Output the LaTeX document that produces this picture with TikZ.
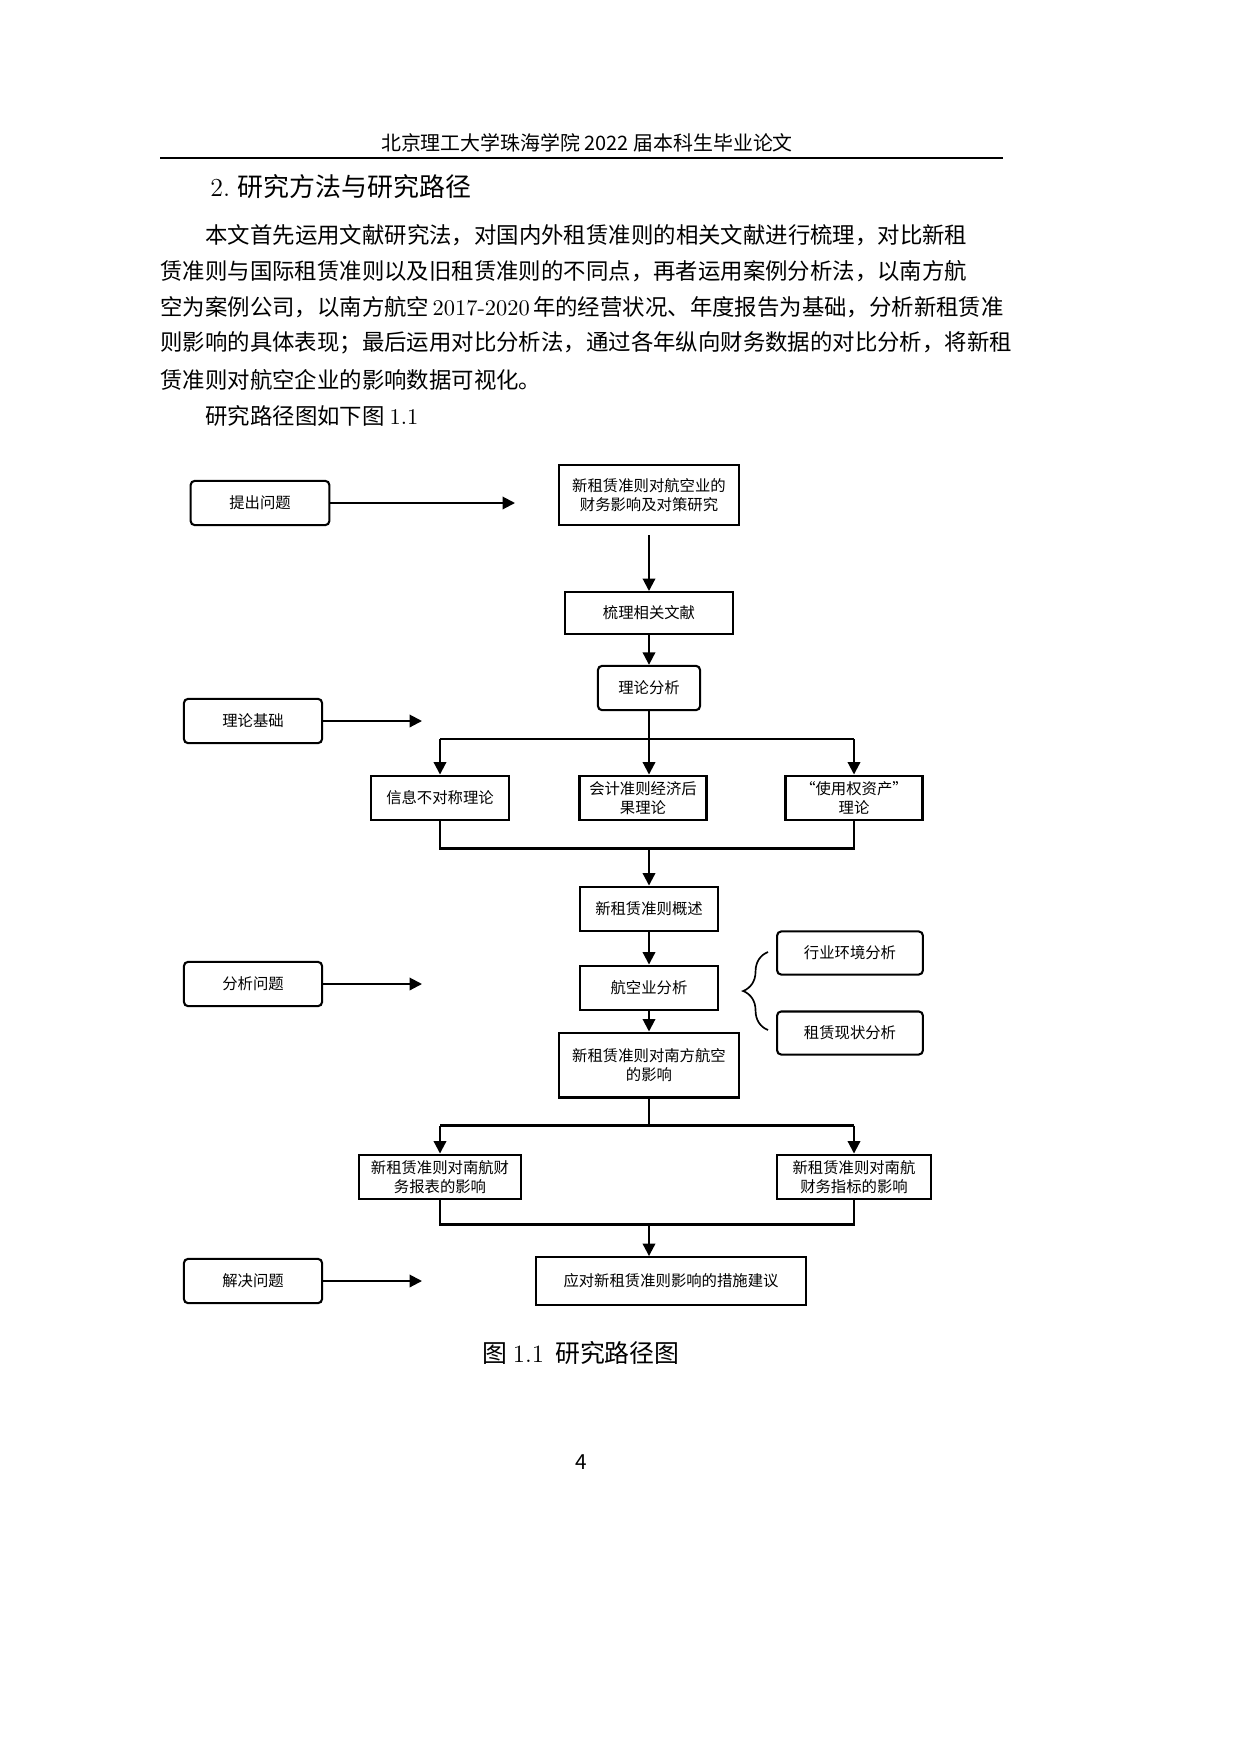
\documentclass[tikz,border=0pt]{standalone}
\usepackage{fontspec}
\newfontfamily\cjk{Noto Sans CJK SC}
\XeTeXlinebreaklocale "zh"
\XeTeXlinebreakskip=0pt plus 2pt
\usetikzlibrary{arrows.meta,decorations.pathreplacing}

\begin{document}
\begin{tikzpicture}[x=0.016935cm,y=-0.016935cm,
    box/.style={draw,line width=1pt,inner sep=0pt,align=center,font=\cjk\fontsize{7.4}{9.5}\selectfont},
    rbox/.style={box,rounded corners=2pt},
    link/.style={line width=1pt,-{Triangle[length=6pt,width=6pt]}},
    line/.style={line width=1pt},
    body/.style={anchor=west,inner sep=0pt,font=\cjk\fontsize{10.8}{13}\selectfont}]

    \useasboundingbox (0,0) rectangle (1240,1754);

    % page text
    \node[inner sep=0pt,font=\cjk\fontsize{9.6}{12}\selectfont] (head) at (587,143) {北京理工大学珠海学院 2022 届本科生毕业论文};
    \draw[line width=0.6pt] (160,158) -- (1003,158);
    \node[body,font=\cjk\fontsize{12.5}{15}\selectfont] (sec) at (210,187) {{\rmfamily 2.} 研究方法与研究路径};
    \node[body] (p1) at (205,235) {\makebox[13.51cm][s]{本文首先运用文献研究法，对国内外租赁准则的相关文献进行梳理，对比新租}};
    \node[body] (p2) at (160,271) {\makebox[14.28cm][s]{赁准则与国际租赁准则以及旧租赁准则的不同点，再者运用案例分析法，以南方航}};
    \node[body] (p3) at (160,307) {\makebox[14.28cm][s]{空为案例公司，以南方航空 {\rmfamily 2017-2020} 年的经营状况、年度报告为基础，分析新租赁准}};
    \node[body] (p4) at (160,343) {\makebox[14.28cm][s]{则影响的具体表现；最后运用对比分析法，通过各年纵向财务数据的对比分析，将新租}};
    \node[body] (p5) at (160,380) {赁准则对航空企业的影响数据可视化。};
    \node[body] (p6) at (205,416) {研究路径图如下图 {\rmfamily 1.1}};

    % left column
    \node[rbox,minimum width=2.35cm,minimum height=0.75cm] (tichu) at (260,503) {提出问题};
    \node[rbox,minimum width=2.34cm,minimum height=0.75cm] (jichu) at (253,721) {理论基础};
    \node[rbox,minimum width=2.34cm,minimum height=0.75cm] (fenxi) at (253,984) {分析问题};
    \node[rbox,minimum width=2.34cm,minimum height=0.75cm] (jiejue) at (253,1281) {解决问题};
    \coordinate (tichuend) at (515,503);
    \coordinate (jichuend) at (422,721);
    \coordinate (fenxiend) at (422,984);
    \coordinate (jiejueend) at (422,1281);
    \draw[link] (tichu) -- (tichuend);
    \draw[link] (jichu) -- (jichuend);
    \draw[link] (fenxi) -- (fenxiend);
    \draw[link] (jiejue) -- (jiejueend);

    % main column
    \node[box,minimum width=3.05cm,minimum height=1.02cm] (title) at (649,495) {新租赁准则对航空业的\\财务影响及对策研究};
    \node[box,minimum width=2.85cm,minimum height=0.71cm] (shuli) at (649,613) {梳理相关文献};
    \node[rbox,minimum width=1.73cm,minimum height=0.75cm] (lilun) at (649,688) {理论分析};
    \node[box,minimum width=2.34cm,minimum height=0.76cm] (xinxi) at (440,798) {信息不对称理论};
    \node[box,minimum width=2.15cm,minimum height=0.76cm] (kuaiji) at (643,798) {会计准则经济后\\果理论};
    \node[box,minimum width=2.32cm,minimum height=0.76cm] (quanli) at (854,798) {“使用权资产”\\理论};
    \node[box,minimum width=2.34cm,minimum height=0.76cm] (gaishu) at (649,909) {新租赁准则概述};
    \node[box,minimum width=2.34cm,minimum height=0.76cm] (hangkong) at (649,988) {航空业分析};
    \node[rbox,minimum width=2.47cm,minimum height=0.73cm] (hangye) at (850,953) {行业环境分析};
    \node[rbox,minimum width=2.47cm,minimum height=0.73cm] (xianzhuang) at (850,1033) {租赁现状分析};
    \node[box,minimum width=3.05cm,minimum height=1.10cm] (nanfang) at (649,1065) {新租赁准则对南方航空\\的影响};
    \node[box,minimum width=2.73cm,minimum height=0.76cm] (baobiao) at (440,1177) {新租赁准则对南航财\\务报表的影响};
    \node[box,minimum width=2.62cm,minimum height=0.76cm] (zhibiao) at (854,1177) {新租赁准则对南航\\财务指标的影响};
    \node[box,minimum width=4.57cm,minimum height=0.81cm] (cuoshi) at (671,1281) {应对新租赁准则影响的措施建议};

    \coordinate (titlegap) at (649,535);
    \draw[link] (titlegap) -- (shuli);
    \draw[link] (shuli) -- (lilun);
    \draw[line] (lilun.south) -- ++(0,28) coordinate (split1);
    \draw[line] (xinxi.north |- split1) -- (quanli.north |- split1);
    \draw[link] (split1 -| xinxi.north) -- (xinxi.north);
    \draw[link] (split1) -- (kuaiji.north -| split1);
    \draw[link] (split1 -| quanli.north) -- (quanli.north);
    \draw[line] (xinxi.south) -- ++(0,27) coordinate (join1) -| (quanli.south);
    \draw[link] (join1 -| gaishu.north) -- (gaishu.north);
    \draw[link] (gaishu) -- (hangkong);
    \draw[link] (hangkong) -- (nanfang);
    \draw[line] (nanfang.south) -- ++(0,27) coordinate (split2);
    \draw[line] (baobiao.north |- split2) -- (zhibiao.north |- split2);
    \draw[link] (split2 -| baobiao.north) -- (baobiao.north);
    \draw[link] (split2 -| zhibiao.north) -- (zhibiao.north);
    \draw[line] (baobiao.south) -- ++(0,24) coordinate (join2) -| (zhibiao.south);
    \draw[link] (join2 -| nanfang.south) -- (cuoshi.north -| nanfang.south);

    \coordinate (bracelow) at (768,1030);
    \coordinate (bracehigh) at (768,952);
    \draw[line width=0.8pt,decorate,decoration={brace,amplitude=12pt}] (bracelow) -- (bracehigh);

    % caption
    \node[inner sep=0pt,font=\cjk\fontsize{12}{14}\selectfont] (cap) at (581,1353) {图 {\rmfamily 1.1}\ \ 研究路径图};
    \node[inner sep=0pt,font=\cjk\fontsize{10}{12}\selectfont] (page) at (581,1462) {4};

\end{tikzpicture}
\end{document}
